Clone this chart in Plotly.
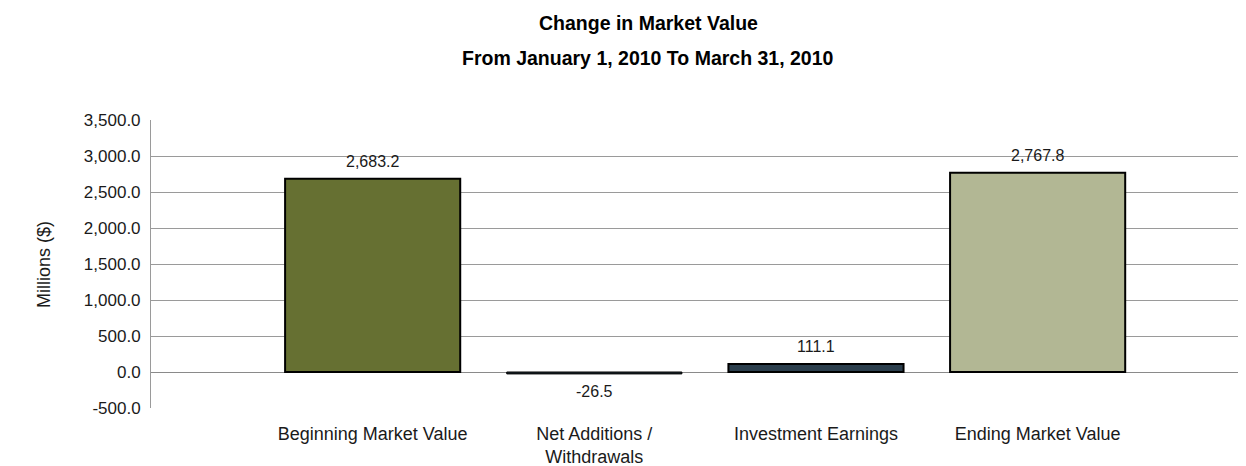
import plotly.graph_objects as go

categories = ["Beginning Market Value", "Net Additions /<br>Withdrawals",
              "Investment Earnings", "Ending Market Value"]
values = [2683.2, -26.5, 111.1, 2767.8]
y_ticks = [-500, 0, 500, 1000, 1500, 2000, 2500, 3000, 3500]
y_tick_labels = ["-500.0", "0.0", "500.0", "1,000.0", "1,500.0", "2,000.0",
                 "2,500.0", "3,000.0", "3,500.0"]
bar_colors = ["#667032", "#1e2a32", "#2b3e4c", "#b2b794"]
outline_widths = [2, 1, 2, 2]

# page has an 8px body margin, so figure is drawn 8px in from the corner
W, H = 1238, 458
L, T, B = 143, 112, 58

fig = go.Figure()
fig.add_trace(go.Bar(
    x=categories, y=values,
    marker=dict(color=bar_colors, line=dict(color="#000000", width=outline_widths)),
    width=0.79,
    cliponaxis=False,
))

# value labels
for c, v in zip(categories, values):
    fig.add_annotation(x=c, y=v, text=f"{v:,.1f}", showarrow=False,
                       yanchor="bottom" if v >= 0 else "top",
                       yshift=7 if v >= 0 else -7,
                       font=dict(size=16, color="#1a1a1a"))

plot_h = H - T - B
def py(pix):
    return (H - B - (pix - 8)) / plot_h

def px(pix):
    return (pix - 8 - L) / (W - L)

fig.add_annotation(text="<b>Change in Market Value</b>", x=px(648), y=py(23), xref="paper",
                   yref="paper", showarrow=False, font=dict(size=19.5, color="#000"),
                   xanchor="center", yanchor="middle")
fig.add_annotation(text="<b>From January 1, 2010 To March 31, 2010</b>", x=px(648), y=py(58),
                   xref="paper", yref="paper", showarrow=False,
                   font=dict(size=19.5, color="#000"), xanchor="center", yanchor="middle")
fig.add_annotation(text="Millions ($)", x=px(44), y=py(265), xref="paper", yref="paper",
                   showarrow=False, textangle=-90, font=dict(size=18, color="#1a1a1a"),
                   xanchor="center", yanchor="middle")

fig.update_layout(
    width=W, height=H,
    margin=dict(l=L, r=0, t=T, b=B, autoexpand=False),
    paper_bgcolor="white", plot_bgcolor="white",
    font=dict(family="Liberation Sans, Arial, sans-serif", size=16, color="#1a1a1a"),
    showlegend=False,
)
fig.update_yaxes(range=[-500, 3500], tickvals=y_ticks, ticktext=y_tick_labels,
                 showgrid=True, gridcolor="#9a9a9a", gridwidth=1,
                 zeroline=True, zerolinecolor="#8a8a8a", zerolinewidth=1,
                 showline=True, linecolor="#9a9a9a", linewidth=1,
                 ticks="", ticklabelstandoff=6, tickfont=dict(size=17))
fig.update_xaxes(range=[-1, 3.94], showline=False, showgrid=False, ticks="",
                 ticklabelstandoff=13, tickfont=dict(size=18))

fig.write_html("out.html")
